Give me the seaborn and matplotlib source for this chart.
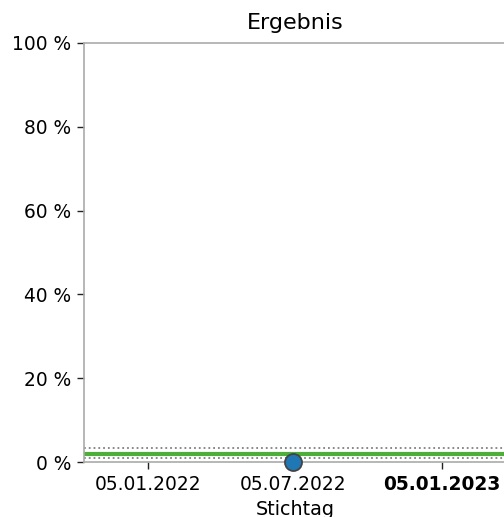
import matplotlib
matplotlib.use("Agg")
import matplotlib.pyplot as plt
import matplotlib.dates as mdates
from matplotlib.ticker import FuncFormatter
import seaborn as sns
import pandas as pd

# Daten
stichtage = ["2022-07-05"]
ergebnis = [0.0]
mittelwert = 1.9
obere_grenze = 3.4
untere_grenze = 0.9
x_ticks = ["2022-01-05", "2022-07-05", "2023-01-05"]
x_bereich = ["2021-10-18", "2023-03-26"]
y_ticks = [0, 20, 40, 60, 80, 100]

df = pd.DataFrame({"Stichtag": pd.to_datetime(stichtage), "Ergebnis": ergebnis})

sns.set_style("white")
plt.rcParams["font.family"] = ["DejaVu Sans"]
plt.rcParams["text.color"] = "black"
plt.rcParams["axes.labelcolor"] = "black"
plt.rcParams["xtick.color"] = "black"
plt.rcParams["ytick.color"] = "black"

fig = plt.figure(figsize=(5.04, 5.17), dpi=100)
ax = fig.add_axes([84 / 504, 1 - 462 / 517, 422 / 504, 419 / 517])

# Mittelwert und Grenzen
ax.axhline(mittelwert, color="#4daf3a", linewidth=3, zorder=2)
ax.axhline(obere_grenze, color="grey", linewidth=1.3, linestyle=":", zorder=2)
ax.axhline(untere_grenze, color="grey", linewidth=1.3, linestyle=":", zorder=2)

sns.scatterplot(data=df, x="Stichtag", y="Ergebnis", ax=ax, s=150,
                color="#1f77b4", edgecolor="#444444", linewidth=1.3,
                zorder=5, clip_on=False)

ax.set_xlim(pd.to_datetime(x_bereich[0]), pd.to_datetime(x_bereich[1]))
ax.set_ylim(0, 100)
ax.set_xticks(pd.to_datetime(x_ticks))
ax.xaxis.set_major_formatter(mdates.DateFormatter("%d.%m.%Y"))
ax.set_yticks(y_ticks)
ax.yaxis.set_major_formatter(FuncFormatter(lambda v, p: f"{v:.0f} %"))

ax.tick_params(axis="both", which="major", labelsize=13.4, length=5,
               width=1, color="#222222", left=True, bottom=True, pad=4)
ax.get_xticklabels()[-1].set_fontweight("bold")

for side in ["top", "right", "left", "bottom"]:
    ax.spines[side].set_color("#aaaaaa")
    ax.spines[side].set_linewidth(1.2)

ax.set_title("Ergebnis", fontsize=16, pad=10)
ax.set_xlabel("Stichtag", fontsize=13.8, labelpad=5)
ax.set_ylabel("")

fig.savefig("out.png", dpi=100)
